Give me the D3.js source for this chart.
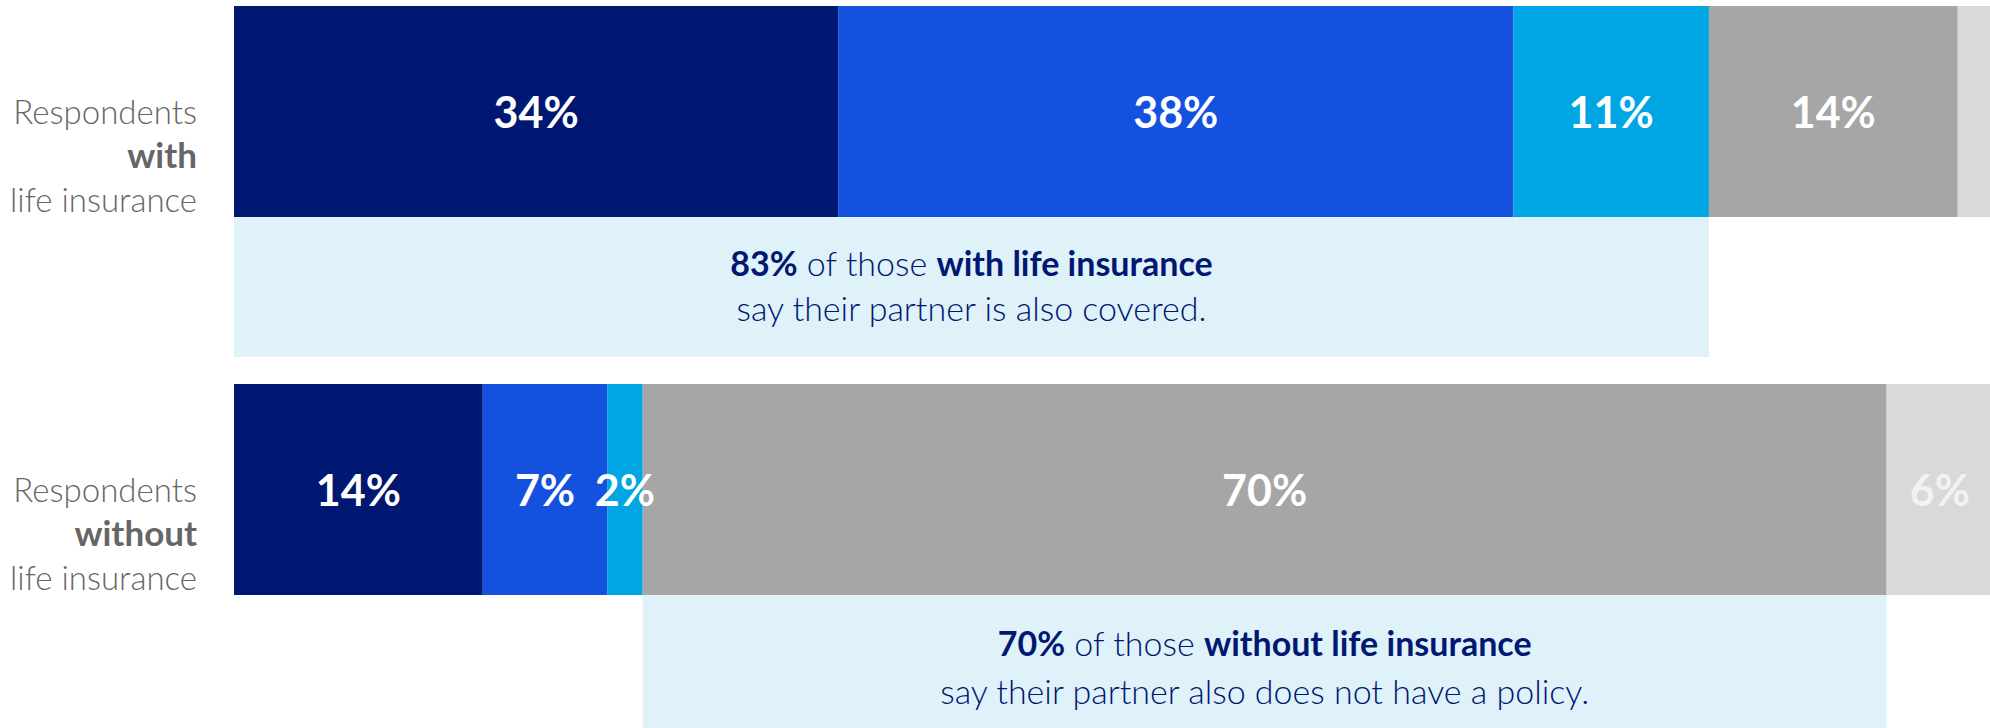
<!DOCTYPE html>
<html>
<head>
<meta charset="utf-8">
<script src="https://cdn.jsdelivr.net/npm/d3@7"></script>
<style>
  body { margin: 0; background: #fff; }
  text { font-family: Lato, "Open Sans", sans-serif; }
</style>
</head>
<body>
<svg id="mainsvg" width="1990" height="728"></svg>
<script>
const groups = ['with', 'without'];
const answers = ['yes', 'partly', 'unsure', 'no', 'other'];
const withValues = [34, 38, 11, 14, 3];
const withoutValues = [14, 7, 2, 70, 6];
const shownLabels = [[true, true, true, true, false], [true, true, true, true, true]];
const calloutSegs = [[0, 2], [3, 3]];
const calloutBold1 = ['83%', '70%'];
const calloutMid = [' of those ', ' of those '];
const calloutBold2 = ['with life insurance', 'without life insurance'];
const calloutLine2 = ['say their partner is also covered.', 'say their partner also does not have a policy.'];

const colors = ['#001871', '#1551df', '#00a5e3', '#a6a6a6', '#d9d9d9'];

const svg = d3.select('#mainsvg');

const x = d3.scaleLinear().domain([0, 100]).range([234, 2011]);
const y = d3.scaleBand().domain(groups).range([6, 762]);
const barH = 211, calloutH = 140;

const rows = [withValues, withoutValues].map((vals, gi) => {
  let acc = 0;
  return vals.map((v, i) => {
    const seg = {group: groups[gi], gi, i, v, x0: acc, x1: acc + v, show: shownLabels[gi][i]};
    acc += v;
    return seg;
  });
});

const g = svg.append('g');

// callout boxes under the bars
g.selectAll('.callout')
  .data(groups)
  .join('rect')
  .attr('class', 'callout')
  .attr('fill', '#dff1f9')
  .attr('x', (d, gi) => x(rows[gi][calloutSegs[gi][0]].x0))
  .attr('width', (d, gi) => x(rows[gi][calloutSegs[gi][1]].x1) - x(rows[gi][calloutSegs[gi][0]].x0))
  .attr('y', d => y(d) + barH)
  .attr('height', calloutH);

const callText = g.selectAll('.calltext')
  .data(groups)
  .join('text')
  .attr('class', 'calltext')
  .attr('text-anchor', 'middle')
  .attr('fill', '#001871')
  .attr('font-size', 34)
  .attr('x', (d, gi) => (x(rows[gi][calloutSegs[gi][0]].x0) + x(rows[gi][calloutSegs[gi][1]].x1)) / 2)
  .attr('y', (d, gi) => y(d) + barH + 59 + gi * 2);

callText.each(function (d, gi) {
  const t = d3.select(this);
  const cx = t.attr('x');
  t.append('tspan').attr('font-weight', 700).text(calloutBold1[gi]);
  t.append('tspan').attr('font-weight', 300).text(calloutMid[gi]);
  t.append('tspan').attr('font-weight', 700).text(calloutBold2[gi]);
  t.append('tspan').attr('x', cx).attr('dy', 45 + gi * 3).attr('font-weight', 300).text(calloutLine2[gi]);
});

// stacked bars
g.selectAll('.bar')
  .data(rows.flat())
  .join('rect')
  .attr('class', 'bar')
  .attr('fill', d => colors[d.i])
  .attr('x', d => x(d.x0))
  .attr('width', d => x(d.x1) - x(d.x0))
  .attr('y', d => y(d.group))
  .attr('height', barH);

g.selectAll('.barlabel')
  .data(rows.flat().filter(d => d.show))
  .join('text')
  .attr('class', 'barlabel')
  .attr('fill', d => d.i === 4 ? '#f2f2f2' : '#fff')
  .attr('font-weight', 700)
  .attr('font-size', 43)
  .attr('text-anchor', 'middle')
  .attr('dominant-baseline', 'central')
  .attr('x', d => (x(d.x0) + x(d.x1)) / 2)
  .attr('y', d => y(d.group) + barH / 2)
  .text(d => d.v + '%');

// row labels on the left
const cat = g.selectAll('.cat')
  .data(groups)
  .join('text')
  .attr('class', 'cat')
  .attr('text-anchor', 'end')
  .attr('fill', '#666')
  .attr('font-size', 33)
  .attr('x', 197)
  .attr('y', d => y(d) + barH / 2 + 56);

cat.each(function (d) {
  const t = d3.select(this);
  t.append('tspan').attr('x', 197).attr('dy', -44).attr('font-weight', 300).text('Respondents');
  t.append('tspan').attr('x', 197).attr('dy', 44).attr('font-weight', 700).attr('font-size', 35).text(d);
  t.append('tspan').attr('x', 197).attr('dy', 44).attr('font-weight', 300).text('life insurance');
});
</script>
</body>
</html>
